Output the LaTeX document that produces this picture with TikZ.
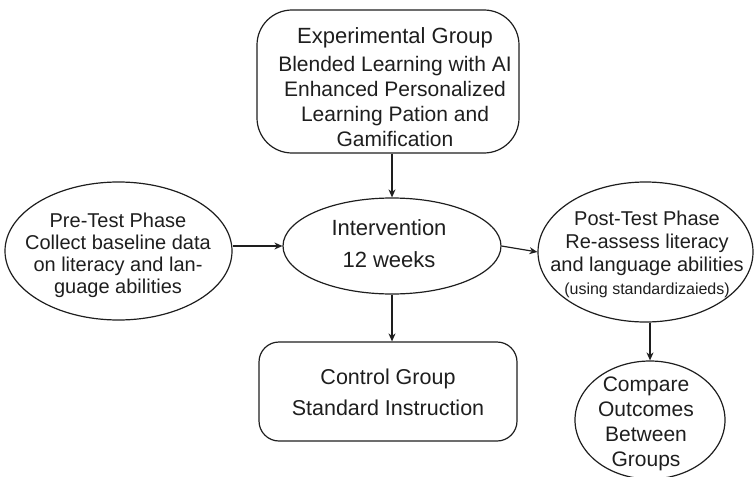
\documentclass[tikz,border=0pt]{standalone}
\usepackage{fontspec}
\setmainfont{Liberation Sans}
\usetikzlibrary{shapes.geometric,arrows.meta}
\definecolor{ink}{HTML}{1E1E1E}
\begin{document}
\begin{tikzpicture}[x=1pt,y=-1pt,
		line width=1.2pt, draw=ink, text=ink,
		box/.style={draw, rounded corners=#1, inner sep=0pt},
		oval/.style={draw, ellipse, inner sep=0pt},
		txt/.style={align=center, font=\fontsize{20}{25}\selectfont},
		arr/.style={-{Stealth[length=8pt,width=7pt]}}]
		\useasboundingbox (0,0) rectangle (754,476);
		
		\node[box=35, minimum width=262, minimum height=143] (exp) at (388,81.5) {};
		\node[oval, minimum width=218, minimum height=96] (int) at (392,246) {};
		\node[oval, minimum width=227, minimum height=138] (pre) at (118.5,251) {};
		\node[oval, minimum width=215, minimum height=140] (post) at (645.5,252) {};
		\node[box=20, minimum width=258, minimum height=99] (ctrl) at (388,391.5) {};
		\node[oval, minimum width=150, minimum height=118] (cmp) at (650,420) {};
		
		\node[txt, font=\fontsize{21}{25}\selectfont] (expt) at (395,87) {{\fontsize{22}{25}\selectfont Experimental Group}\\[3pt] Blended Learning with AI\\ Enhanced Personalized\\ Learning Pation and\\ Gamification};
		\node[txt, font=\fontsize{22}{32}\selectfont] (intt) at (389,244) {Intervention\\ 12 weeks};
		\node[txt, font=\fontsize{20}{22}\selectfont] (pret) at (118,255) {Pre-Test Phase\\ Collect baseline data\\ on literacy and lan-\\ guage abilities};
		\node[txt, font=\fontsize{20}{23}\selectfont] (postt) at (647,254) {Post-Test Phase\\ Re-assess literacy\\ and language abilities\\ {\fontsize{16}{20}\selectfont (using standardizaieds)}};
		\node[txt, font=\fontsize{21.5}{31}\selectfont] (ctrlt) at (388,392) {Control Group\\ Standard Instruction};
		\node[txt, font=\fontsize{21}{25}\selectfont] (cmpt) at (646,424) {Compare\\ Outcomes\\ Between\\ Groups};
		
		\draw[arr] (exp.south -| int.north) -- (int.north);
		\draw[arr] (pre.east |- int.west) -- (int.west);
		\draw[arr] (int.east) -- (post.west);
		\draw[arr] (int.south) -- (int.south |- ctrl.north);
		\draw[arr] (post.south -| cmp.north) -- (cmp.north);
		
	\end{tikzpicture}
\end{document}
